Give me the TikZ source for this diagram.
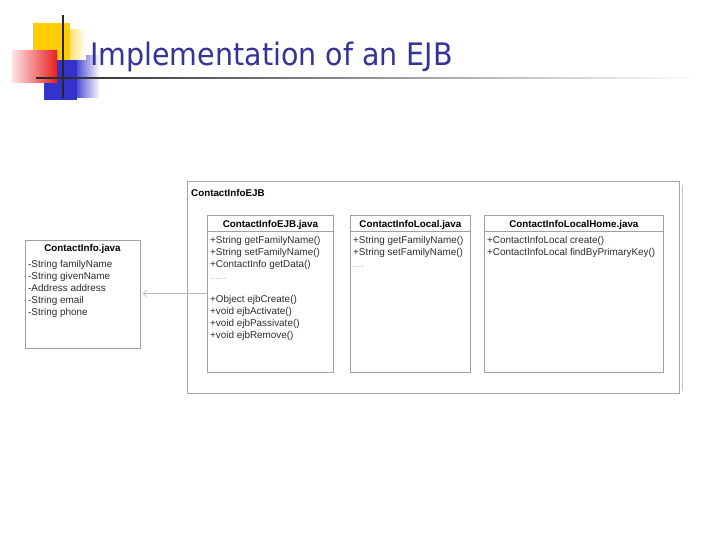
\documentclass[tikz,border=0pt]{standalone}
\usepackage{fontspec}
\setmainfont{Liberation Sans}
\newfontfamily\titlefont{DejaVu Sans}
\usetikzlibrary{arrows.meta}
\definecolor{titleblue}{RGB}{51,51,153}
\definecolor{logoyellow}{RGB}{255,204,0}
\definecolor{logored}{RGB}{232,32,32}
\definecolor{logoblue}{RGB}{51,51,204}
\definecolor{boxgray}{RGB}{160,160,160}
\definecolor{txt}{RGB}{45,45,45}
\begin{document}
\begin{tikzpicture}[x=1pt,y=-1pt,
  umlbox/.style={draw=boxgray, line width=0.8pt, fill=white, inner sep=0pt, anchor=north west},
  hdr/.style={font=\fontsize{9.8}{12}\selectfont\bfseries, text=black, inner sep=0pt, anchor=base},
  member/.style={font=\fontsize{9.9}{12}\selectfont, text=txt, inner sep=0pt, anchor=base west},
  dotline/.style={member, text=gray!60},
  sep/.style={draw=boxgray, line width=0.8pt},
  dep/.style={draw=gray!55, line width=0.6pt, -{Straight Barb[length=3.5pt,width=7pt]}}]
\useasboundingbox (0,0) rectangle (720,540);
\fill[white] (0,0) rectangle (720,540);

% ---- logo ----
\fill[logoblue] (44,56) rectangle (77,100);
\shade[left color=logoblue!85, right color=white] (77,56) rectangle (100,98);
\fill[logoyellow] (33,23) rectangle (70,60);
\shade[left color=logoyellow!55, right color=white] (70,30) rectangle (86,60);
\shade[left color=logored!12, right color=logored] (12,51) rectangle (57,83);
\draw[black!85, line width=1.6pt] (63,15) -- (63,98);
\shade[left color=black!85, middle color=gray!55, right color=white] (36,77.2) rectangle (700,78.8);

% ---- title ----
\node[font=\titlefont\fontsize{31}{31}\selectfont, text=titleblue, anchor=base west, inner sep=0pt] (title) at (90,66) {\scalebox{0.92}[1]{Implementation of an EJB}};

% ---- outer package box ----
\draw[gray!45, line width=0.8pt] (682,185) -- (682,391);
\node[umlbox, draw=gray!70, minimum width=492pt, minimum height=212pt] (pkg) at (187,181) {};
\node[hdr, anchor=base west] (pkglabel) at (191,196.5) {ContactInfoEJB};

% ---- inner class boxes ----
\node[umlbox, minimum width=126pt, minimum height=156pt] (ejb) at (207,215.5) {};
\node[umlbox, minimum width=120pt, minimum height=156pt] (loc) at (350,215.5) {};
\node[umlbox, minimum width=179pt, minimum height=156pt] (home) at (484,215.5) {};
\node[umlbox, minimum width=115pt, minimum height=108pt] (ci) at (25,240) {};

\coordinate (sepy) at (0,231.5);
\draw[sep] (sepy -| ejb.west) -- (sepy -| ejb.east);
\draw[sep] (sepy -| loc.west) -- (sepy -| loc.east);
\draw[sep] (sepy -| home.west) -- (sepy -| home.east);

\coordinate (hdry) at (0,227);
\node[hdr] (ejbh) at (hdry -| ejb.north) {ContactInfoEJB.java};
\node[hdr] (loch) at (hdry -| loc.north) {ContactInfoLocal.java};
\node[hdr] (homeh) at (hdry -| home.north) {ContactInfoLocalHome.java};
\node[hdr] (cih) at (82.5,251.5) {ContactInfo.java};

% members of ContactInfoEJB.java
\node[member] (e1) at (210,243.5) {+String getFamilyName()};
\node[member] (e2) at (210,255.5) {+String setFamilyName()};
\node[member] (e3) at (210,267.5) {+ContactInfo getData()};
\node[dotline] (e4) at (210,279) {......};
\node[member] (e5) at (210,302.5) {+Object ejbCreate()};
\node[member] (e6) at (210,314.5) {+void ejbActivate()};
\node[member] (e7) at (210,326.5) {+void ejbPassivate()};
\node[member] (e8) at (210,338.5) {+void ejbRemove()};

% members of ContactInfoLocal.java
\node[member] (l1) at (353,243.5) {+String getFamilyName()};
\node[member] (l2) at (353,255.5) {+String setFamilyName()};
\node[dotline] (l3) at (353,267) {....};

% members of ContactInfoLocalHome.java
\node[member] (h1) at (487,243.5) {+ContactInfoLocal create()};
\node[member] (h2) at (487,255.5) {+ContactInfoLocal findByPrimaryKey()};

% attributes of ContactInfo.java
\node[member] (c1) at (28,267.5) {-String familyName};
\node[member] (c2) at (28,279.5) {-String givenName};
\node[member] (c3) at (28,291.5) {-Address address};
\node[member] (c4) at (28,303.5) {-String email};
\node[member] (c5) at (28,315.5) {-String phone};

% dependency
\coordinate (arry) at (0,293.5);
\draw[dep] (arry -| ejb.west) -- ([xshift=2pt]arry -| ci.east);
\end{tikzpicture}
\end{document}
